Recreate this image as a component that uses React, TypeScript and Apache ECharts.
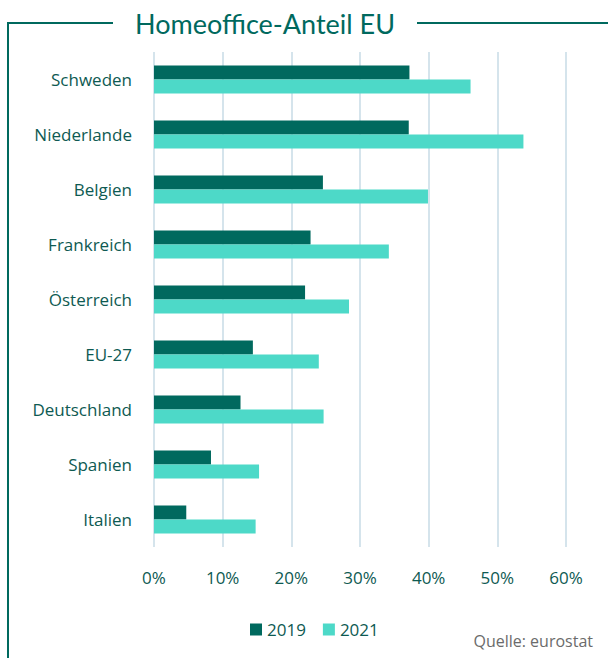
import React, { useEffect, useRef } from "react";
import * as echarts from "echarts";

const categories = ["Schweden", "Niederlande", "Belgien", "Frankreich", "Österreich", "EU-27", "Deutschland", "Spanien", "Italien"];
const values2019 = [37.2, 37.1, 24.6, 22.8, 22.0, 14.4, 12.6, 8.3, 4.7];
const values2021 = [46.1, 53.8, 39.9, 34.2, 28.4, 24.0, 24.7, 15.3, 14.8];
const seriesNames = ["2019", "2021"];
const xTicks = [0, 10, 20, 30, 40, 50, 60];

const DARK = "#00695E";
const LIGHT = "#4DD9C8";
const TEXT = "#0E5A52";
const FONT = "'Open Sans', sans-serif";

export default function App() {
  const ref = useRef<HTMLDivElement>(null);
  useEffect(() => {
    if (!ref.current) return;
    const chart = echarts.init(ref.current, undefined, { renderer: "svg" });
    chart.setOption({
      animation: false,
      backgroundColor: "#ffffff",
      title: {
        text: "Homeoffice-Anteil EU",
        left: 260,
        textAlign: "center",
        top: 5,
        textStyle: { fontFamily: "Lato, sans-serif", fontSize: 27, fontWeight: "normal", color: DARK },
      },
      graphic: [
        { type: "line", shape: { x1: 7, y1: 23, x2: 113, y2: 23 }, style: { stroke: DARK, lineWidth: 2 } },
        { type: "line", shape: { x1: 417, y1: 23, x2: 608, y2: 23 }, style: { stroke: DARK, lineWidth: 2 } },
        { type: "line", shape: { x1: 8, y1: 22, x2: 8, y2: 658 }, style: { stroke: DARK, lineWidth: 2 } },
        {
          type: "text",
          right: 15,
          top: 633,
          style: { text: "Quelle: eurostat", fontFamily: FONT, fontSize: 16, fill: "#6b6b6b" },
        },
      ],
      legend: {
        data: seriesNames,
        left: 245,
        top: 616,
        itemWidth: 12,
        itemHeight: 12,
        itemGap: 17,
        icon: "rect",
        textStyle: { fontFamily: FONT, fontSize: 17, color: TEXT },
      },
      grid: { left: 154, right: 42, top: 52, bottom: 111, containLabel: false },
      xAxis: {
        type: "value",
        min: 0,
        max: 60,
        interval: 10,
        axisLine: { show: false },
        axisTick: { show: false },
        splitLine: { lineStyle: { color: "#D5E4EC", width: 2 } },
        axisLabel: {
          formatter: (v: number) => (xTicks.includes(v) ? v + "%" : ""),
          fontFamily: FONT,
          fontSize: 17,
          color: TEXT,
          margin: 22,
        },
      },
      yAxis: {
        type: "category",
        data: categories,
        inverse: true,
        axisLine: { show: false },
        axisTick: { show: false },
        axisLabel: { fontFamily: FONT, fontSize: 17, color: TEXT, margin: 22 },
      },
      series: [
        { name: seriesNames[0], type: "bar", data: values2019, itemStyle: { color: DARK }, barGap: "0%", barCategoryGap: "49%" },
        { name: seriesNames[1], type: "bar", data: values2021, itemStyle: { color: LIGHT }, barGap: "0%", barCategoryGap: "49%" },
      ],
    });
    return () => chart.dispose();
  }, []);
  return <div ref={ref} style={{ position: "absolute", left: 0, top: 0, width: 608, height: 658 }} />;
}
